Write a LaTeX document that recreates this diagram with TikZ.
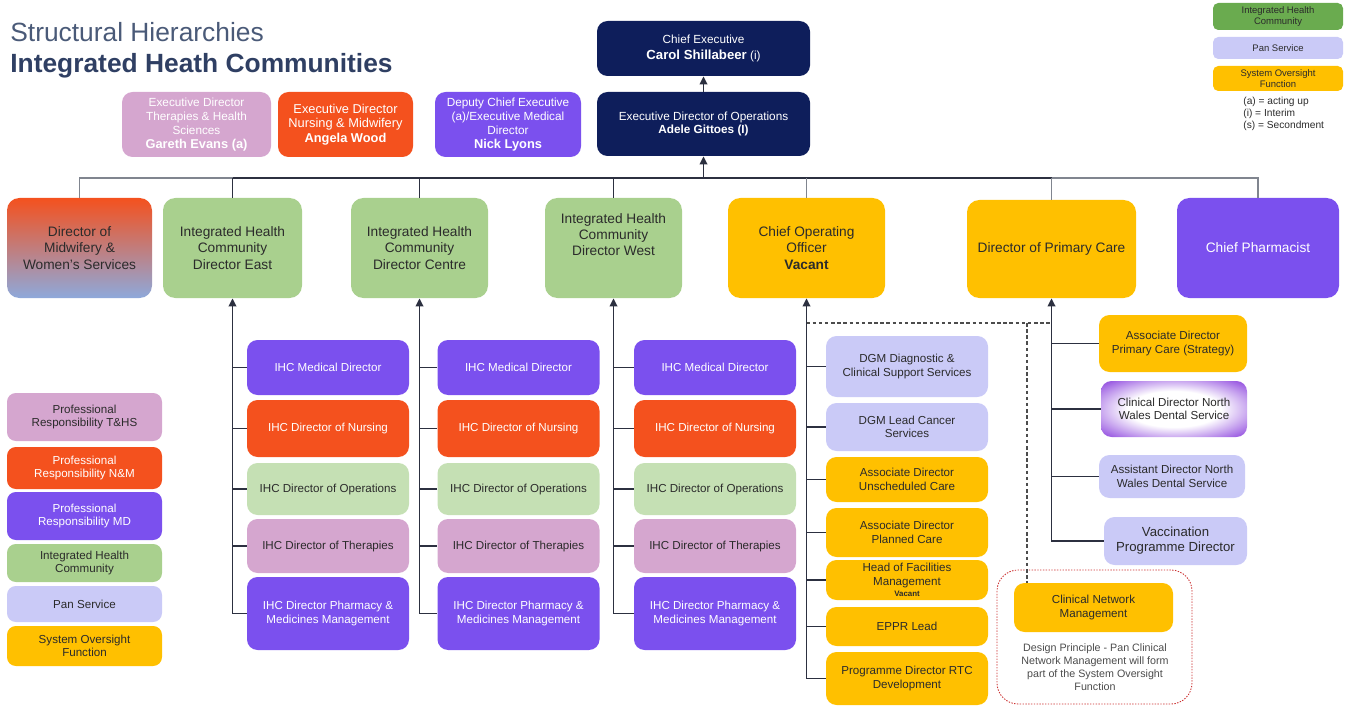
\documentclass[tikz,border=0pt]{standalone}
\usepackage{fontspec}
\setmainfont{Liberation Sans}
\usetikzlibrary{arrows.meta}

\definecolor{navy}{HTML}{0E1E5B}
\definecolor{ihcorange}{HTML}{F4511E}
\definecolor{ihcpurple}{HTML}{7B50EE}
\definecolor{ihcpink}{HTML}{D5A6CF}
\definecolor{ihcgreen}{HTML}{A9D08E}
\definecolor{opsgreen}{HTML}{C5E0B4}
\definecolor{keygreen}{HTML}{6AAB4F}
\definecolor{panblue}{HTML}{CACAF7}
\definecolor{sysamber}{HTML}{FFC000}
\definecolor{midblue}{HTML}{8EA9DB}
\definecolor{glowpurple}{HTML}{9552E0}
\definecolor{ink}{HTML}{2B2B2B}
\definecolor{linedark}{HTML}{2C3040}
\definecolor{linegray}{HTML}{80858F}
\definecolor{titleblue}{HTML}{4A5A78}
\definecolor{titledark}{HTML}{2F3F63}

% white centre fading to purple at the rim
\pgfdeclareradialshading{glow}{\pgfpoint{0bp}{0bp}}{%
  color(0bp)=(white); color(16bp)=(white); color(26bp)=(glowpurple!55);
  color(34bp)=(glowpurple); color(50bp)=(glowpurple)}

\begin{document}
\begin{tikzpicture}[
  box/.style={rounded corners=4pt, align=center, inner sep=1pt, text=ink,
              font=\fontsize{6.6}{7.6}\selectfont},
  head/.style={box, rounded corners=7pt, minimum height=2cm,
               font=\fontsize{7.8}{9.2}\selectfont},
  exec/.style={box, rounded corners=6pt, text=white, minimum height=1.3cm,
               font=\fontsize{6.7}{7.9}\selectfont},
  sub/.style={box, rounded corners=6pt, minimum width=3.24cm},
  med/.style={sub, fill=ihcpurple, text=white, minimum height=1.1cm},
  nur/.style={sub, fill=ihcorange, text=white, minimum height=1.14cm},
  ops/.style={sub, fill=opsgreen, minimum height=1.04cm},
  ther/.style={sub, fill=ihcpink, minimum height=1.08cm},
  phm/.style={sub, fill=ihcpurple, text=white, minimum height=1.46cm},
  lg/.style={box, rounded corners=5pt, minimum width=3.1cm},
  key/.style={box, rounded corners=3pt, minimum width=2.6cm,
              font=\fontsize{5.4}{6.2}\selectfont},
  link/.style={draw=linedark, line width=1.1pt},
  arr/.style={link, -{Triangle[length=1.6mm, width=1.5mm]}},
  dashline/.style={draw=gray!60!black, line width=0.9pt, dash pattern=on 2pt off 1.5pt}
]
  \useasboundingbox (0,0) rectangle (27.02,-14.12);

  % heading
  \node[anchor=west, inner sep=0, text=titleblue, font=\fontsize{15}{18}\selectfont]
    (title) at (0.2,-0.64) {Structural Hierarchies};
  \node[anchor=west, inner sep=0, text=titledark, font=\bfseries\fontsize{15}{18}\selectfont]
    (subtitle) at (0.2,-1.31) {Integrated Heath Communities};

  % executive level
  \node[exec, fill=navy, minimum width=4.26cm, minimum height=1.1cm] (ceo) at (14.07,-0.97)
    {Chief Executive\\[1pt]{\bfseries\fontsize{7.5}{9}\selectfont Carol Shillabeer} (i)};
  \node[exec, fill=navy, minimum width=4.26cm, minimum height=1.28cm] (edo) at (14.07,-2.48)
    {Executive Director of Operations\\{\bfseries Adele Gittoes (I)}};
  \node[exec, fill=ihcpink, minimum width=2.98cm] (edths) at (3.93,-2.49)
    {Executive Director\\Therapies \& Health\\Sciences\\{\bfseries\fontsize{7.3}{8.4}\selectfont Gareth Evans (a)}};
  \node[exec, fill=ihcorange, minimum width=2.7cm, font=\fontsize{7.3}{8.4}\selectfont] (ednm) at (6.91,-2.49)
    {Executive Director\\Nursing \& Midwifery\\{\bfseries Angela Wood}};
  \node[exec, fill=ihcpurple, minimum width=2.92cm] (dce) at (10.16,-2.49)
    {Deputy Chief Executive\\(a)/Executive Medical\\Director\\{\bfseries\fontsize{7.3}{8.4}\selectfont Nick Lyons}};

  % director level
  \node[head, top color=ihcorange, middle color=white, bottom color=midblue, minimum width=2.9cm] (mid) at (1.59,-4.96)
    {Director of\\Midwifery \&\\Women's Services};
  \node[head, fill=ihcgreen, minimum width=2.78cm] (east) at (4.65,-4.96)
    {Integrated Health\\Community\\Director East};
  \node[head, fill=ihcgreen, minimum width=2.74cm] (centre) at (8.39,-4.96)
    {Integrated Health\\Community\\Director Centre};
  \node[head, fill=ihcgreen, minimum width=2.74cm] (west) at (12.27,-4.96)
    {Integrated Health\\Community\\Director West\\[6pt]};
  \node[head, fill=sysamber, minimum width=3.14cm] (coo) at (16.13,-4.96)
    {Chief Operating\\Officer\\\textbf{Vacant}};
  \node[head, fill=sysamber, minimum width=3.38cm, minimum height=1.96cm] (pc) at (21.03,-4.98)
    {Director of Primary Care};
  \node[head, fill=ihcpurple, text=white, minimum width=3.24cm] (pharm) at (25.16,-4.96)
    {Chief Pharmacist};

  % reporting bar
  \coordinate (bar) at (14.07,-3.56);
  \draw[link, draw=linegray] (mid.north) -- (mid.north |- bar) -- (pharm.north |- bar) -- (pharm.north);
  \draw[link] (east.north |- bar) -- (pc.north |- bar);
  \draw[link] (east.north) -- (east.north |- bar);
  \draw[link] (centre.north) -- (centre.north |- bar);
  \draw[link] (west.north) -- (west.north |- bar);
  \draw[link, draw=linegray] (coo.north) -- (coo.north |- bar);
  \draw[link, draw=linegray] (pc.north) -- (pc.north |- bar);
  \draw[arr] (bar) -- (edo.south);
  \draw[arr] (edo) -- (ceo);

  % IHC East
  \node[med] (eastmed) at (6.56,-7.35) {IHC Medical Director};
  \node[nur] (eastnur) at (6.56,-8.57) {IHC Director of Nursing};
  \node[ops] (eastops) at (6.56,-9.78) {IHC Director of Operations};
  \node[ther] (eastther) at (6.56,-10.92) {IHC Director of Therapies};
  \node[phm] (eastphm) at (6.56,-12.27) {IHC Director Pharmacy \&\\Medicines Management};
  \draw[link] (eastmed.west) -- (eastmed.west -| east.south);
  \draw[link] (eastnur.west) -- (eastnur.west -| east.south);
  \draw[link] (eastops.west) -- (eastops.west -| east.south);
  \draw[link] (eastther.west) -- (eastther.west -| east.south);
  \draw[arr] (eastphm.west) -| (east.south);

  % IHC Centre
  \node[med] (centremed) at (10.37,-7.35) {IHC Medical Director};
  \node[nur] (centrenur) at (10.37,-8.57) {IHC Director of Nursing};
  \node[ops] (centreops) at (10.37,-9.78) {IHC Director of Operations};
  \node[ther] (centrether) at (10.37,-10.92) {IHC Director of Therapies};
  \node[phm] (centrephm) at (10.37,-12.27) {IHC Director Pharmacy \&\\Medicines Management};
  \draw[link] (centremed.west) -- (centremed.west -| centre.south);
  \draw[link] (centrenur.west) -- (centrenur.west -| centre.south);
  \draw[link] (centreops.west) -- (centreops.west -| centre.south);
  \draw[link] (centrether.west) -- (centrether.west -| centre.south);
  \draw[arr] (centrephm.west) -| (centre.south);

  % IHC West
  \node[med] (westmed) at (14.30,-7.35) {IHC Medical Director};
  \node[nur] (westnur) at (14.30,-8.57) {IHC Director of Nursing};
  \node[ops] (westops) at (14.30,-9.78) {IHC Director of Operations};
  \node[ther] (westther) at (14.30,-10.92) {IHC Director of Therapies};
  \node[phm] (westphm) at (14.30,-12.27) {IHC Director Pharmacy \&\\Medicines Management};
  \draw[link] (westmed.west) -- (westmed.west -| west.south);
  \draw[link] (westnur.west) -- (westnur.west -| west.south);
  \draw[link] (westops.west) -- (westops.west -| west.south);
  \draw[link] (westther.west) -- (westther.west -| west.south);
  \draw[arr] (westphm.west) -| (west.south);

  % Chief Operating Officer
  \node[sub, fill=panblue, minimum height=1.22cm] (dgmd) at (18.14,-7.33) {DGM Diagnostic \&\\Clinical Support Services};
  \node[sub, fill=panblue, minimum height=0.96cm] (dgmc) at (18.14,-8.54) {DGM Lead Cancer\\Services};
  \node[sub, fill=sysamber, minimum height=0.9cm] (adu) at (18.14,-9.59) {Associate Director\\Unscheduled Care};
  \node[sub, fill=sysamber, minimum height=0.98cm] (adp) at (18.14,-10.65) {Associate Director\\Planned Care};
  \node[sub, fill=sysamber, minimum height=0.8cm] (hfm) at (18.14,-11.6)
    {Head of Facilities\\Management\\[-1pt]{\bfseries\fontsize{4.5}{5}\selectfont Vacant}};
  \node[sub, fill=sysamber, minimum height=0.78cm] (eppr) at (18.14,-12.53) {EPPR Lead};
  \node[sub, fill=sysamber, minimum height=1.06cm] (rtc) at (18.14,-13.57) {Programme Director RTC\\Development};
  \draw[link] (dgmd.west) -- (dgmd.west -| coo.south);
  \draw[link] (dgmc.west) -- (dgmc.west -| coo.south);
  \draw[link] (adu.west) -- (adu.west -| coo.south);
  \draw[link] (adp.west) -- (adp.west -| coo.south);
  \draw[link] (hfm.west) -- (hfm.west -| coo.south);
  \draw[link] (eppr.west) -- (eppr.west -| coo.south);
  \draw[arr] (rtc.west) -| (coo.south);

  % Primary Care
  \node[sub, fill=sysamber, minimum width=2.96cm, minimum height=1.14cm] (adpc) at (23.46,-6.87)
    {Associate Director\\Primary Care (Strategy)};
  \node[sub, shade, shading=glow, minimum width=2.92cm, minimum height=1.12cm] (cdnw) at (23.48,-8.18)
    {Clinical Director North\\Wales Dental Service};
  \node[sub, fill=panblue, minimum width=2.92cm, minimum height=0.86cm] (asnw) at (23.44,-9.53)
    {Assistant Director North\\Wales Dental Service};
  \node[sub, fill=panblue, minimum width=2.86cm, minimum height=0.96cm, font=\fontsize{7.5}{8.6}\selectfont] (vacc) at (23.51,-10.82)
    {Vaccination\\Programme Director};
  \draw[link] (adpc.west) -- (adpc.west -| pc.south);
  \draw[link] (cdnw.west) -- (cdnw.west -| pc.south);
  \draw[link] (asnw.west) -- (asnw.west -| pc.south);
  \draw[arr] (vacc.west) -| (pc.south);

  % clinical networks under system oversight
  \node[sub, fill=sysamber, minimum width=3.18cm, minimum height=0.98cm] (cnm) at (21.87,-12.15)
    {Clinical Network\\Management};
  \node[align=center, text=ink!85, font=\fontsize{6.1}{7.4}\selectfont] (note) at (21.9,-13.34)
    {Design Principle - Pan Clinical\\Network Management will form\\part of the System Oversight\\Function};
  \draw[draw=red!75!black!80, line width=0.5pt, dash pattern=on 0.8pt off 0.8pt, rounded corners=12pt]
    (19.94,-11.4) rectangle (23.84,-14.08);
  \coordinate (dsplit) at (20.54,-6.46);
  \draw[dashline] (dsplit -| coo.south) -- (dsplit -| pc.south);
  \draw[dashline] (dsplit) -- (dsplit |- cnm.north);

  % colour key, left
  \node[lg, fill=ihcpink, minimum height=0.96cm] (lgths) at (1.69,-8.34) {Professional\\Responsibility T\&HS};
  \node[lg, fill=ihcorange, text=white, minimum height=0.84cm] (lgnm) at (1.69,-9.36) {Professional\\Responsibility N\&M};
  \node[lg, fill=ihcpurple, text=white, minimum height=0.96cm] (lgmd) at (1.69,-10.32) {Professional\\Responsibility MD};
  \node[lg, fill=ihcgreen, minimum height=0.76cm] (lgihc) at (1.69,-11.26) {Integrated Health\\Community};
  \node[lg, fill=panblue, minimum height=0.72cm] (lgpan) at (1.69,-12.08) {Pan Service};
  \node[lg, fill=sysamber, minimum height=0.8cm] (lgsof) at (1.69,-12.92) {System Oversight\\Function};

  % colour key, right
  \node[key, fill=keygreen, minimum height=0.54cm] (keyihc) at (25.56,-0.33) {Integrated Health\\Community};
  \node[key, fill=panblue, minimum height=0.44cm] (keypan) at (25.56,-0.96) {Pan Service};
  \node[key, fill=sysamber, minimum height=0.5cm] (keysof) at (25.56,-1.57) {System Oversight\\Function};
  \node[anchor=north west, align=left, inner sep=0, text=ink, font=\fontsize{5.8}{6.8}\selectfont]
    (notes) at (24.86,-1.93) {(a) = acting up\\(i) = Interim\\(s) = Secondment};
\end{tikzpicture}
\end{document}
